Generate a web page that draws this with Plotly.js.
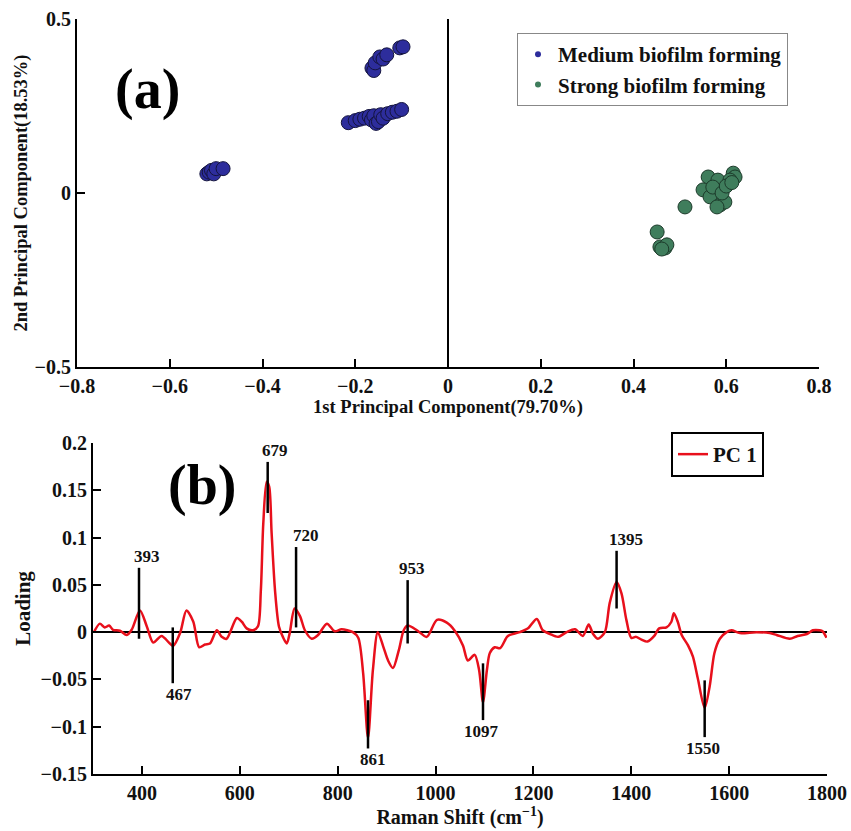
<!DOCTYPE html>
<html>
<head>
<meta charset="utf-8">
<script src="https://cdn.plot.ly/plotly-3.0.1.min.js"></script>
<style>
html,body{margin:0;padding:0;background:#fff;}
#chart{width:851px;height:831px;}
#chart g.xtick text, #chart g.ytick text, #chart g.x2tick text, #chart g.y2tick text { font-weight: bold !important; }
</style>
</head>
<body>
<div id="chart"></div>
<script>
// ---------- (a) PCA scores ----------
const mediumPC1 = [-0.52, -0.515, -0.51, -0.505, -0.50, -0.485,
  -0.164, -0.16, -0.157, -0.147, -0.14, -0.132, -0.104, -0.097,
  -0.215, -0.20, -0.19, -0.18, -0.17, -0.165, -0.16, -0.155, -0.15, -0.145, -0.14, -0.13, -0.12, -0.11, -0.10];
const mediumPC2 = [0.055, 0.06, 0.065, 0.055, 0.07, 0.07,
  0.359, 0.352, 0.374, 0.391, 0.385, 0.397, 0.417, 0.420,
  0.202, 0.208, 0.212, 0.215, 0.22, 0.21, 0.222, 0.20, 0.205, 0.225, 0.215, 0.228, 0.232, 0.235, 0.24];
const strongPC1 = [0.561, 0.582, 0.615, 0.619, 0.55, 0.565, 0.587, 0.597, 0.608, 0.571, 0.591, 0.58, 0.60, 0.612,
  0.511, 0.451, 0.457, 0.468, 0.472, 0.461];
const strongPC2 = [0.046, 0.037, 0.057, 0.046, 0.009, -0.011, -0.034, -0.026, 0.037, 0.017, 0.0, -0.040, 0.02, 0.03,
  -0.040, -0.112, -0.155, -0.158, -0.149, -0.161];
const groupNames = ['Medium biofilm forming', 'Strong biofilm forming'];
const pc1Ticks = [-0.8, -0.6, -0.4, -0.2, 0, 0.2, 0.4, 0.6, 0.8];
const pc2Ticks = [-0.5, 0, 0.5];

// ---------- (b) PC1 loading ----------
const ramanShift = [302, 314, 324, 333, 341, 355, 369, 379, 396, 410, 423, 440, 457, 464, 478, 491, 505, 517, 529, 539,
  553, 563, 573, 594, 604, 614, 627, 637, 643, 648, 655, 660, 665, 672, 680, 688, 696, 702, 712, 723,
  733, 747, 760, 778, 794, 808, 831, 842, 852, 862, 872, 882, 893, 903, 913, 925, 935, 943, 962, 982,
  1003, 1023, 1040, 1056, 1066, 1080, 1089, 1097, 1105, 1111, 1121, 1132, 1146, 1152, 1172, 1189, 1207, 1219, 1234, 1250,
  1268, 1285, 1301, 1313, 1322, 1332, 1346, 1356, 1370, 1380, 1390, 1400, 1410, 1421, 1433, 1447, 1457, 1472, 1482, 1487,
  1495, 1503, 1516, 1526, 1536, 1550, 1560, 1570, 1581, 1595, 1605, 1622, 1656, 1683, 1697, 1724, 1740, 1759, 1771, 1785, 1791, 1799];
const loading = [0.000, 0.009, 0.005, 0.007, 0.0025, 0.0015, -0.003, 0.0025, 0.023, 0.006, -0.011, -0.004, -0.012, -0.0145, -0.001, 0.023, 0.011, -0.016, -0.013, -0.012,
  0.002, -0.005, -0.007, 0.015, 0.011, 0.004, 0.002, 0.006, 0.044, 0.115, 0.159, 0.154, 0.105, 0.044, 0.006, -0.005, -0.012, -0.001, 0.025, 0.017,
  0.002, -0.007, -0.003, 0.009, 0.001, 0.003, 0.000, -0.006, -0.043, -0.112, -0.040, 0.000, -0.015, -0.030, -0.038, -0.019, 0.002, 0.007, 0.002, -0.005,
  0.013, 0.010, 0.001, -0.014, -0.030, -0.024, -0.040, -0.074, -0.040, -0.022, -0.016, -0.017, -0.005, -0.003, 0.000, 0.004, 0.014, 0.002, -0.002, -0.005,
  0.000, 0.003, -0.004, 0.008, -0.002, -0.007, 0.000, 0.031, 0.053, 0.041, 0.013, -0.006, -0.005, -0.008, -0.010, -0.004, 0.004, 0.005, 0.011, 0.020,
  0.011, -0.003, -0.014, -0.026, -0.049, -0.080, -0.058, -0.022, -0.007, 0.000, 0.002, -0.001, 0.000, -0.001, -0.003, -0.007, -0.004, -0.002, 0.002, 0.002, 0.001, -0.006];
const shiftTicks = [400, 600, 800, 1000, 1200, 1400, 1600, 1800];
const loadingTicks = [-0.15, -0.1, -0.05, 0, 0.05, 0.1, 0.15, 0.2];

// peak markers
const peakLabels = ['393', '467', '679', '720', '861', '953', '1097', '1395', '1550'];
const peakPos    = [394, 463, 657, 715, 862, 943, 1097, 1370, 1550];
const peakLow    = [-0.007, -0.054, 0.126, 0.005, -0.123, -0.012, -0.093, 0.025, -0.111];
const peakHigh   = [0.068, 0.005, 0.180, 0.090, -0.072, 0.055, -0.033, 0.086, -0.051];
const labelX     = [410, 476, 672, 735, 873, 951, 1093, 1390, 1546];
const labelSide  = ['above', 'below', 'above', 'above', 'below', 'above', 'below', 'above', 'below'];

const serif = 'Liberation Serif, Times New Roman, serif';
const bold = s => '<b>' + s + '</b>';
const fmt = v => String(Math.round(v * 100) / 100).replace('-', '\u2212');

const peakX = [], peakY = [];
peakPos.forEach((p, i) => { peakX.push(p, p, null); peakY.push(peakLow[i], peakHigh[i], null); });

const traces = [
  {x: mediumPC1, y: mediumPC2, type: 'scatter', mode: 'markers', xaxis: 'x', yaxis: 'y', showlegend: false,
   marker: {size: 14, color: '#2d2d9c', line: {color: '#14143e', width: 1}}},
  {x: strongPC1, y: strongPC2, type: 'scatter', mode: 'markers', xaxis: 'x', yaxis: 'y', showlegend: false,
   marker: {size: 14, color: '#3f7d5c', line: {color: '#1c3a2a', width: 1}}},
  {x: [null], y: [null], type: 'scatter', mode: 'markers', xaxis: 'x', yaxis: 'y', name: bold(groupNames[0]),
   marker: {size: 6, color: '#2d2d9c'}, legend: 'legend'},
  {x: [null], y: [null], type: 'scatter', mode: 'markers', xaxis: 'x', yaxis: 'y', name: bold(groupNames[1]),
   marker: {size: 6, color: '#3f7d5c'}, legend: 'legend'},
  {x: ramanShift, y: loading, type: 'scatter', mode: 'lines', xaxis: 'x2', yaxis: 'y2', name: bold('PC 1'),
   line: {color: '#e8101c', width: 2.5, shape: 'spline', smoothing: 0.8}, legend: 'legend2'},
  {x: peakX, y: peakY, type: 'scatter', mode: 'lines', xaxis: 'x2', yaxis: 'y2', showlegend: false,
   line: {color: '#000', width: 2.5}, connectgaps: false}
];

const annotations = peakLabels.map((t, i) => ({
  xref: 'x2', yref: 'y2', x: labelX[i], y: labelSide[i] === 'above' ? peakHigh[i] : peakLow[i],
  text: bold(t), showarrow: false, xanchor: 'center',
  yanchor: labelSide[i] === 'above' ? 'bottom' : 'top',
  font: {family: serif, size: 17, color: '#111'}
}));
annotations.push({xref: 'paper', yref: 'paper', x: 147 / 851, y: 1 - 90 / 831, text: bold('(a)'), showarrow: false,
  xanchor: 'center', yanchor: 'middle', font: {family: serif, size: 56, color: '#000'}});
annotations.push({xref: 'paper', yref: 'paper', x: 202 / 851, y: 1 - 485 / 831, text: bold('(b)'), showarrow: false,
  xanchor: 'center', yanchor: 'middle', font: {family: serif, size: 56, color: '#000'}});

const axisCommon = {
  showgrid: false, showline: true, linecolor: '#000', linewidth: 2,
  ticks: 'inside', ticklen: 8, tickwidth: 2, tickcolor: '#000', mirror: false,
  tickmode: 'array',
  tickfont: {family: serif, size: 20, color: '#111', weight: 700}
};

const layout = {
  width: 851, height: 831,
  margin: {l: 0, r: 0, t: 0, b: 0},
  paper_bgcolor: '#fff', plot_bgcolor: '#fff',
  font: {family: serif, color: '#111'},
  xaxis: Object.assign({}, axisCommon, {
    domain: [77 / 851, 819 / 851], anchor: 'y', range: [-0.8, 0.8],
    tickvals: pc1Ticks, ticktext: pc1Ticks.map(fmt),
    zeroline: true, zerolinecolor: '#000', zerolinewidth: 2,
    title: {text: bold('1st Principal Component(79.70%)'), font: {family: serif, size: 18.5, color: '#111'}, standoff: 2}
  }),
  yaxis: Object.assign({}, axisCommon, {
    domain: [1 - 367 / 831, 1 - 19 / 831], anchor: 'x', range: [-0.5, 0.5],
    tickvals: pc2Ticks, ticktext: pc2Ticks.map(fmt),
    zeroline: false,
    title: {text: bold('2nd Principal Component(18.53%)'), font: {family: serif, size: 18.5, color: '#111'}, standoff: 2}
  }),
  xaxis2: Object.assign({}, axisCommon, {
    domain: [93 / 851, 827 / 851], anchor: 'y2', range: [300, 1800],
    tickvals: shiftTicks, ticktext: shiftTicks.map(fmt),
    zeroline: false,
    title: {text: bold('Raman Shift (cm<sup>−1</sup>)'), font: {family: serif, size: 20, color: '#111'}, standoff: 3}
  }),
  yaxis2: Object.assign({}, axisCommon, {
    domain: [1 - 774 / 831, 1 - 443 / 831], anchor: 'x2', range: [-0.15, 0.2],
    tickvals: loadingTicks, ticktext: loadingTicks.map(fmt),
    zeroline: true, zerolinecolor: '#000', zerolinewidth: 2,
    title: {text: bold('Loading'), font: {family: serif, size: 21, color: '#111'}, standoff: 4}
  }),
  legend: {x: 517 / 851, y: 1 - 33 / 831, xanchor: 'left', yanchor: 'top', bgcolor: '#fff',
    bordercolor: '#888', borderwidth: 1, font: {family: serif, size: 21, color: '#111'},
    itemwidth: 30, tracegroupgap: 0},
  legend2: {x: 671 / 851, y: 1 - 432 / 831, xanchor: 'left', yanchor: 'top', bgcolor: '#fff',
    bordercolor: '#000', borderwidth: 2, font: {family: serif, size: 21, color: '#111'}, itemwidth: 30},
  annotations: annotations
};

Plotly.newPlot('chart', traces, layout, {displayModeBar: false, staticPlot: true});
</script>
</body>
</html>
